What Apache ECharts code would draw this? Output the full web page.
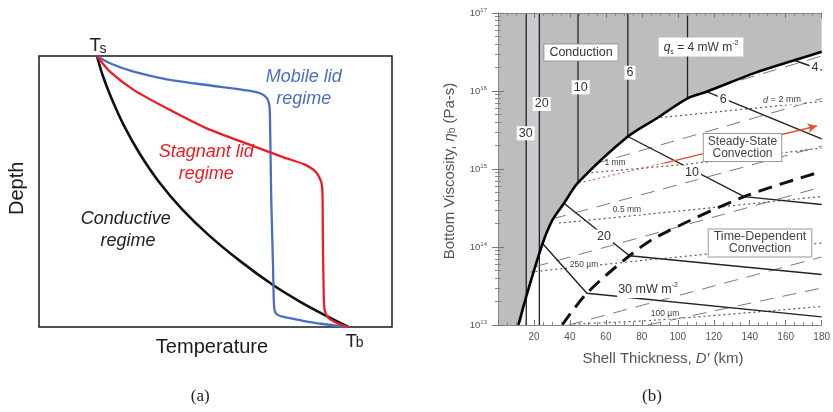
<!DOCTYPE html>
<html><head><meta charset="utf-8">
<script src="https://cdn.jsdelivr.net/npm/echarts@6/dist/echarts.min.js"></script>
<style>html,body{margin:0;padding:0;background:#fff}#c{width:833px;height:412px}</style>
</head><body><div id="c"></div><script>
// ---------- Panel (a): normalised temperature vs normalised depth ----------
const condT = [0.164,0.180,0.205,0.240,0.285,0.340,0.405,0.480,0.570,0.665,0.740,0.811,0.877];
const condZ = [0,0.070,0.155,0.255,0.360,0.465,0.565,0.660,0.757,0.847,0.907,0.957,1.0];
const mobT = [0.164,0.201,0.268,0.362,0.475,0.594,0.631,0.646,0.653,0.655,0.658,0.663,0.666,0.672,0.693,0.740,0.797,0.877];
const mobZ = [0,0.027,0.058,0.086,0.107,0.128,0.140,0.156,0.187,0.285,0.531,0.776,0.924,0.951,0.963,0.975,0.988,1.0];
const stagT = [0.164,0.201,0.268,0.362,0.475,0.598,0.693,0.750,0.783,0.799,0.803,0.804,0.806,0.809,0.820,0.844,0.877];
const stagZ = [0,0.058,0.125,0.193,0.267,0.328,0.374,0.399,0.426,0.463,0.506,0.654,0.838,0.936,0.967,0.985,1.0];

// ---------- Panel (b): shell thickness (km) vs bottom viscosity (Pa s) ----------
const xTicks = [20,40,60,80,100,120,140,160,180];
const yDecades = [1e13,1e14,1e15,1e16,1e17];
// conduction / convection boundary
const boundD   = [0,11.3,15.7,19.3,24.8,30.3,36.7,44.5,72.2,88.6,105.4,116.0,143.3,165.2,180];
const boundEta = [1e13,1e13,2.31e13,4.38e13,1.11e14,2.22e14,3.63e14,6.67e14,2.61e15,4.51e15,8.05e15,9.79e15,1.72e16,2.49e16,3.19e16];
// lighter strip between the 30 and 20 mW/m2 conduction lines
const stripD   = [15.7,19.3,23.0];
const stripEta = [2.31e13,4.38e13,8.2e13];
// conductive heat-flux lines (vertical)
const condQ      = [30,20,10,6,4];
const condLineD  = [15.7,23.0,44.5,72.2,105.4];
const condLineLo = [1e13,1e13,6.67e14,2.61e15,8.05e15];
// convective heat-flux lines
const q4D  = [165.2,180],        q4Eta  = [2.46e16,1.86e16];
const q6D  = [116.0,180],        q6Eta  = [9.79e15,2.43e15];
const q10D = [72.2,136.9,180],   q10Eta = [2.61e15,4.42e14,3.51e14];
const q20D = [36.7,73.1,180],    q20Eta = [3.63e14,7.73e13,4.44e13];
const q30D = [24.8,49.4,180],    q30Eta = [1.11e14,2.55e13,1.27e13];
// steady-state / time-dependent transition (thick dashed)
const transD   = [35.7,49.4,73.1,88.6,136.9,180];
const transEta = [1e13,2.55e13,7.73e13,1.36e14,4.42e14,9.29e14];
// grain-size contours (dotted)
const g2mmD  = [90.3,180],       g2mmEta  = [4.57e15,7.33e15];
const g1mmD  = [49.2,110.5,180], g1mmEta  = [8.89e14,1.19e15,1.86e15];
const g05D   = [33.9,88.6,180],  g05Eta   = [2.03e14,2.71e14,4.44e14];
const g250D  = [18.1,88.6,180],  g250Eta  = [4.78e13,7.02e13,1.12e14];
const g100D  = [42.1,88.6,180],  g100Eta  = [1.03e13,1.16e13,1.73e13];
// red evolution path
const redDotD = [44.9,92.5],  redDotEta = [6.62e14,1.19e15];
const redArrD = [92.5,177.3], redArrEta = [1.19e15,3.56e15];
// long-dashed gray contours
const dashD   = [[135.1,180],[53.6,180],[30.1,180],[20.2,180],[39.4,180],[83.2,180]];
const dashEta = [[1.38e16,2.81e16],[1.16e15,8.0e15],[2.29e14,1.97e15],[5.55e13,5.88e14],[1e13,7.45e13],[1e13,2.98e13]];

const zip = (a,b) => a.map((v,i)=>[v,b[i]]);
const F = '"Liberation Sans", Arial, sans-serif';

const series = [];
// panel a
function lineA(name, xs, ys, color, w){
  series.push({name, type:'line', xAxisIndex:0, yAxisIndex:0, data:zip(xs,ys), smooth:0.25,
    showSymbol:false, symbol:'none', lineStyle:{color, width:w}, z:3, silent:true});
}
lineA('cond', condT, condZ, '#111', 2.6);
lineA('mobile', mobT, mobZ, '#4a6fc1', 2.3);
lineA('stagnant', stagT, stagZ, '#ec1c24', 2.3);

// panel b
function lineB(xs, ys, style, extra){
  series.push(Object.assign({type:'line', xAxisIndex:1, yAxisIndex:1, data:zip(xs,ys), showSymbol:false,
    symbol:'none', silent:true, lineStyle:style, z:3}, extra||{}));
}
// gray conduction area
lineB(boundD, boundEta, {width:0}, {smooth:0.3, areaStyle:{origin:'end', color:'#bdbdbd', opacity:1}, z:1});
lineB(stripD, stripEta, {width:0}, {smooth:0.3, areaStyle:{origin:'end', color:'#cacacf', opacity:1}, z:1});
// vertical conduction lines
condLineD.forEach((d,i)=> lineB([d,d],[1e17,condLineLo[i]], {color:'#222', width:1.3}));
// gray long dashed
dashD.forEach((ds,i)=> lineB(ds, dashEta[i], {color:'#7a7a7a', width:1, type:[14,9]}));
// dotted grain size
[[g2mmD,g2mmEta],[g1mmD,g1mmEta],[g05D,g05Eta],[g250D,g250Eta],[g100D,g100Eta]].forEach(p=>
  lineB(p[0],p[1],{color:'#5a5a5a', width:1.2, type:[2,3]}, {smooth:0.3}));
// red path
lineB(redDotD, redDotEta, {color:'#e0603a', width:1.1, type:[2,3]});
lineB(redArrD, redArrEta, {width:0}, {markLine:{silent:true, symbol:['none','arrow'], symbolSize:[7,9],
  lineStyle:{color:'#e2502c', width:1.4, type:'solid'}, label:{show:false},
  data:[[{coord:[redArrD[0],redArrEta[0]]},{coord:[redArrD[1],redArrEta[1]]}]]}});
// convective heat-flux lines
[[q4D,q4Eta],[q6D,q6Eta],[q10D,q10Eta],[q20D,q20Eta],[q30D,q30Eta]].forEach(p=>
  lineB(p[0],p[1],{color:'#222', width:1.4}));
// transition thick dashed
lineB(transD, transEta, {color:'#111', width:3, type:[14,8]}, {smooth:0.3, z:4});
// boundary
lineB(boundD.slice(1), boundEta.slice(1), {color:'#000', width:2.6}, {smooth:0.3, z:5});

const supFmt = v => { const e = Math.round(Math.log10(v)); return '{b|10}{s|' + e + '}'; };

function t(x,y,text,font,fill,extra){
  return Object.assign({type:'text', x, y, z:100, silent:true,
    style:Object.assign({text, font, fill, align:'center', verticalAlign:'middle'}, (extra&&extra.style)||{})},
    extra && extra.rotation!==undefined ? {rotation:extra.rotation} : {});
}
const numBox = {style:{backgroundColor:'#fff', padding:[1,2,0,2]}};
const graphic = [
  // panel a texts
  t(95.3,45.5,'T','19px '+F,'#222'), t(103,49.5,'s','14px '+F,'#222'),
  t(351.3,341.7,'T','19px '+F,'#222'), t(359.7,343.5,'b','14px '+F,'#222'),
  t(212,347.3,'Temperature','20px '+F,'#1a1a1a'),
  t(17.3,188.3,'Depth','20px '+F,'#1a1a1a',{rotation:Math.PI/2}),
  t(303.7,76.7,'Mobile lid','italic 18px '+F,'#4a6fc1'),
  t(303.7,99,'regime','italic 18px '+F,'#4a6fc1'),
  t(206.3,152.3,'Stagnant lid','italic 18px '+F,'#ec1c24'),
  t(206.3,174,'regime','italic 18px '+F,'#ec1c24'),
  t(125.8,219,'Conductive','italic 18px '+F,'#222'),
  t(128,240.7,'regime','italic 18px '+F,'#222'),
  t(200.3,396.7,'(a)','17px "Liberation Serif", "DejaVu Serif", serif','#222'),
  t(652,396.7,'(b)','17px "Liberation Serif", "DejaVu Serif", serif','#222'),
  // panel b axis names
  {type:'text', x:450, y:171, rotation:Math.PI/2, z:100, silent:true, style:{
    text:'{a|Bottom Viscosity, }{e|η}{u|b}{a| (Pa-s)}', align:'center', verticalAlign:'middle',
    rich:{a:{font:'15px '+F, fill:'#555'}, e:{font:'italic 15px '+F, fill:'#555'}, u:{font:'10px '+F, fill:'#555', verticalAlign:'bottom'}}}},
  {type:'text', x:663, y:359, z:100, silent:true, style:{
    text:'{a|Shell Thickness, }{i|D′}{a| (km)}', align:'center', verticalAlign:'middle',
    rich:{a:{font:'15px '+F, fill:'#555'}, i:{font:'italic 15px '+F, fill:'#555'}}}},
  // panel b annotations
  t(581,52.5,'Conduction','12.5px '+F,'#333',{style:{backgroundColor:'#fff', borderColor:'#9a9a9a', borderWidth:1, padding:[2,5,1,5]}}),
  {type:'text', x:701, y:47, z:100, silent:true, style:{
    text:'{q|q}{s|s}{n| = 4 mW m}{p|-2}', align:'center', verticalAlign:'middle', backgroundColor:'#fff', padding:[2,5,1,5],
    rich:{q:{font:'italic 12px '+F, fill:'#333', lineHeight:16}, s:{font:'7px '+F, fill:'#333', verticalAlign:'bottom'},
      n:{font:'12px '+F, fill:'#333', lineHeight:16}, p:{font:'7px '+F, fill:'#333', verticalAlign:'top'}}}},
  t(630,72.7,'6','12.5px '+F,'#333',numBox),
  t(580.7,87.3,'10','12.5px '+F,'#333',numBox),
  t(541.7,104,'20','12.5px '+F,'#333',numBox),
  t(525.7,133.3,'30','12.5px '+F,'#333',numBox),
  t(815,67.3,'4','12.5px '+F,'#333',numBox),
  t(723.3,99.3,'6','12.5px '+F,'#333',numBox),
  t(692,172.3,'10','12.5px '+F,'#333',numBox),
  t(604,236.5,'20','12.5px '+F,'#333',numBox),
  {type:'text', x:648, y:290, z:100, silent:true, style:{
    text:'{a|30 mW m}{p|-2}', align:'center', verticalAlign:'middle', backgroundColor:'#fff', padding:[0,1],
    rich:{a:{font:'12.5px '+F, fill:'#333', lineHeight:16}, p:{font:'7px '+F, fill:'#333', verticalAlign:'top'}}}},
  {type:'text', x:782, y:100, z:100, silent:true, style:{
    text:'{i|d}{a| = 2 mm}', align:'center', verticalAlign:'middle', backgroundColor:'#fff', padding:[0,1],
    rich:{i:{font:'italic 9px '+F, fill:'#444'}, a:{font:'9px '+F, fill:'#444'}}}},
  t(615,162.5,'1 mm','8.5px '+F,'#444'),
  t(627,210,'0.5 mm','8.5px '+F,'#444',{style:{backgroundColor:'#fff'}}),
  t(584,264.3,'250 µm','8.5px '+F,'#444',{style:{backgroundColor:'#fff'}}),
  t(665,314,'100 µm','8.5px '+F,'#444',{style:{backgroundColor:'#fff'}}),
  t(742.5,147.5,'Steady-State\nConvection','12px '+F,'#444',{style:{backgroundColor:'#fff', borderColor:'#999', borderWidth:1, padding:[2,4,1,4], lineHeight:12}}),
  t(760,243,'Time-Dependent\nConvection','12.5px '+F,'#444',{style:{backgroundColor:'#fff', borderColor:'#999', borderWidth:1, padding:[2,5,1,5], lineHeight:12}})
];

const axB = {show:true, lineStyle:{color:'#888', width:1}};
const tickB = {show:true, inside:true, length:5, lineStyle:{color:'#777'}};
const option = {
  animation:false,
  backgroundColor:'#fff',
  grid:[
    {left:39, top:56, width:353, height:271, show:true, borderColor:'#1a1a1a', borderWidth:1.5, backgroundColor:'transparent'},
    {left:498, top:13, width:329, height:312, show:false}
  ],
  xAxis:[
    {gridIndex:0, type:'value', min:0, max:1, show:false},
    {gridIndex:1, type:'value', min:0, max:180, interval:20, position:'bottom', z:6,
      axisLine:axB, axisTick:tickB, minorTick:{show:true, splitNumber:4, length:3, lineStyle:{color:'#888'}},
      splitLine:{show:false},
      axisLabel:{margin:7, fontSize:10, color:'#555', fontFamily:F, formatter:v=> xTicks.includes(v)?String(v):''}},
    {gridIndex:1, type:'value', min:0, max:180, interval:20, position:'top', z:6,
      axisLine:axB, axisTick:tickB, minorTick:{show:true, splitNumber:4, length:3, lineStyle:{color:'#888'}},
      splitLine:{show:false}, axisLabel:{show:false}}
  ],
  yAxis:[
    {gridIndex:0, type:'value', min:0, max:1, inverse:true, show:false},
    {gridIndex:1, type:'log', logBase:10, min:yDecades[0], max:yDecades[4], position:'left', z:6,
      axisLine:axB, axisTick:Object.assign({}, tickB, {length:6}),
      minorTick:{show:true, splitNumber:9, length:3, lineStyle:{color:'#888'}},
      splitLine:{show:false},
      axisLabel:{margin:11, color:'#555', fontFamily:F, formatter:supFmt,
        rich:{b:{fontSize:9.5, color:'#555', fontFamily:F}, s:{fontSize:6, color:'#555', fontFamily:F, verticalAlign:'top', padding:[0,0,6,0]}}}},
    {gridIndex:1, type:'log', logBase:10, min:yDecades[0], max:yDecades[4], position:'right', z:6,
      axisLine:axB, axisTick:Object.assign({}, tickB, {length:6}),
      minorTick:{show:true, splitNumber:9, length:3, lineStyle:{color:'#888'}},
      splitLine:{show:false}, axisLabel:{show:false}}
  ],
  series,
  graphic
};
const chart = echarts.init(document.getElementById('c'), null, {renderer:'canvas'});
chart.setOption(option);
</script></body></html>
